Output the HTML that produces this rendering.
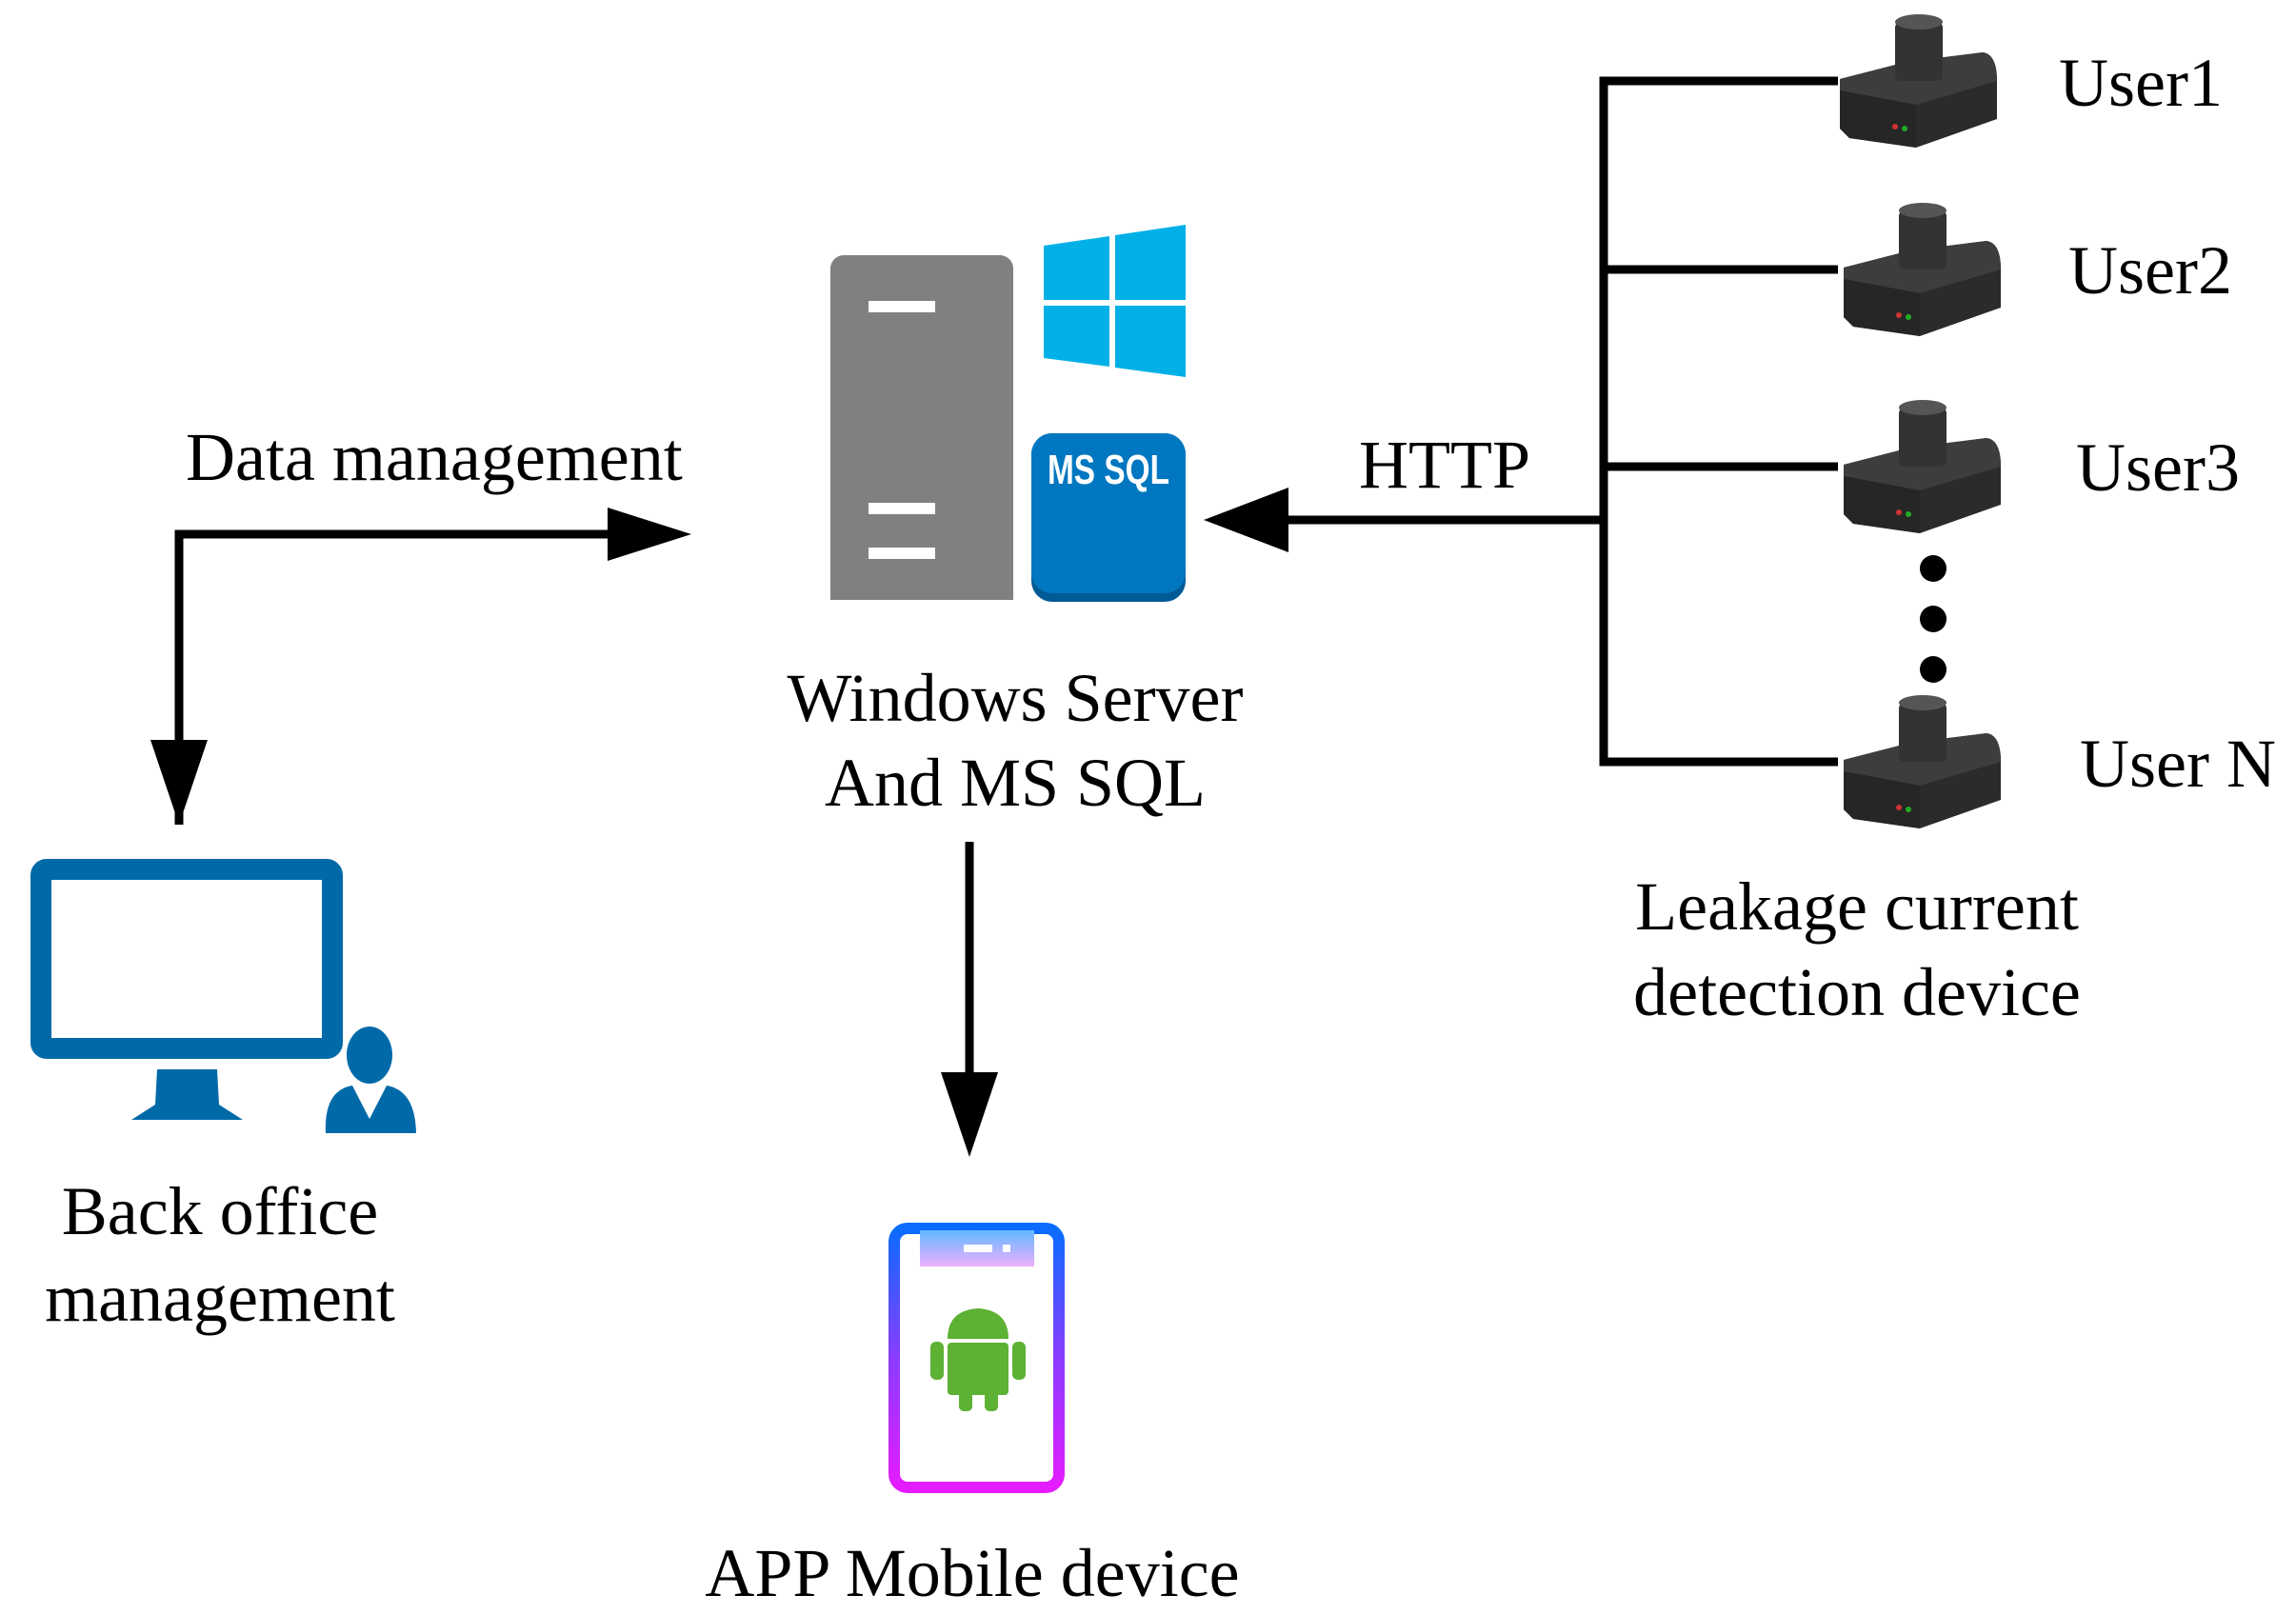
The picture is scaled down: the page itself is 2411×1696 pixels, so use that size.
<!DOCTYPE html>
<html><head><meta charset="utf-8"><style>
html,body{margin:0;padding:0;background:#fff;}
svg{display:block;}
text{font-family:"Liberation Serif",serif;fill:#000;}
</style></head><body>
<svg width="2411" height="1696" viewBox="0 0 2411 1696" xmlns="http://www.w3.org/2000/svg">
<defs>
<linearGradient id="pg" x1="0" y1="0" x2="0" y2="1">
<stop offset="0" stop-color="#0a6cff"/><stop offset="0.5" stop-color="#8a3cff"/><stop offset="1" stop-color="#e51cff"/></linearGradient>
<linearGradient id="ng" x1="0" y1="0" x2="0" y2="1">
<stop offset="0" stop-color="#60b8ff"/><stop offset="1" stop-color="#eeb0ff"/></linearGradient>
<g id="dev">
<path d="M0 38 L70 20 L150 10 Q165 12 165 40 L165 80 L80 110 L10 100 L0 90 Z" fill="#2b2b2b"/>
<path d="M0 38 L70 20 L150 10 Q165 12 165 40 L80 65 L0 50 Z" fill="#3d3d3d"/>
<path d="M0 50 L80 65 L80 110 L10 100 L0 90 Z" fill="#262626"/>
<rect x="58" y="-22" width="50" height="62" rx="6" fill="#333"/>
<ellipse cx="83" cy="-22" rx="25" ry="8" fill="#555"/>
<circle cx="58" cy="88" r="3" fill="#c33"/><circle cx="68" cy="90" r="3" fill="#2a2"/>
</g>
</defs>

<g stroke="#000" stroke-width="9" fill="none">
<path d="M1930 85 H1684 V800 H1930"/>
<path d="M1684 283 H1930"/>
<path d="M1684 490 H1930"/>
<path d="M1684 546 H1340"/>
<path d="M188 866 V561 H650"/>
<path d="M1018 884 V1130"/>
</g>
<polygon points="1264,546 1353,512 1353,580" fill="#000"/>
<polygon points="726,561 638,533 638,589" fill="#000"/>
<polygon points="188,866 158,777 218,777" fill="#000"/>
<polygon points="1018,1215 988,1126 1048,1126" fill="#000"/>

<use href="#dev" x="1932" y="45"/>
<use href="#dev" x="1936" y="243"/>
<use href="#dev" x="1936" y="450"/>
<use href="#dev" x="1936" y="760"/>
<circle cx="2030" cy="597" r="14" fill="#000"/>
<circle cx="2030" cy="650" r="14" fill="#000"/>
<circle cx="2030" cy="703" r="14" fill="#000"/>

<text x="2162" y="111" font-size="72">User1</text>
<text x="2172" y="308" font-size="72">User2</text>
<text x="2180" y="515" font-size="72">User3</text>
<text x="2184" y="826" font-size="72">User N</text>
<text x="1950" y="976" font-size="72" text-anchor="middle">Leakage current</text>
<text x="1950" y="1066" font-size="72" text-anchor="middle">detection device</text>

<rect x="872" y="268" width="192" height="362" rx="14" fill="#808080"/>
<rect x="872" y="600" width="192" height="30" fill="#808080"/>
<rect x="912" y="316" width="70" height="12" fill="#fff"/>
<rect x="912" y="528" width="70" height="12" fill="#fff"/>
<rect x="912" y="575" width="70" height="12" fill="#fff"/>
<polygon points="1096,258 1165,248 1165,315 1096,315" fill="#00b0e6"/>
<polygon points="1171,247 1245,236 1245,315 1171,315" fill="#00b0e6"/>
<polygon points="1096,321 1165,321 1165,385 1096,376" fill="#00b0e6"/>
<polygon points="1171,321 1245,321 1245,396 1171,386" fill="#00b0e6"/>
<rect x="1083" y="455" width="162" height="177" rx="22" fill="#005a96"/>
<rect x="1083" y="455" width="162" height="168" rx="22" fill="#0077c0"/>
<text x="1164" y="508" font-size="44" style="font-family:'Liberation Sans',sans-serif;font-weight:bold;fill:#fff" text-anchor="middle" textLength="128" lengthAdjust="spacingAndGlyphs">MS SQL</text>
<text x="1066" y="757" font-size="72" text-anchor="middle">Windows Server</text>
<text x="1066" y="846" font-size="72" text-anchor="middle">And MS SQL</text>
<text x="1427" y="512" font-size="72">HTTP</text>
<text x="195" y="504" font-size="72">Data management</text>

<rect x="43" y="913" width="306" height="188" rx="6" fill="none" stroke="#006aa8" stroke-width="22"/>
<path d="M165 1123 H228 L230 1160 L255 1176 H138 L163 1160 Z" fill="#006aa8"/>
<ellipse cx="388" cy="1108" rx="24" ry="30" fill="#006aa8"/>
<path d="M342 1190 Q340 1145 370 1140 L388 1175 L406 1140 Q436 1145 437 1190 Z" fill="#006aa8"/>
<text x="231" y="1296" font-size="72" text-anchor="middle">Back office</text>
<text x="231" y="1387" font-size="72" text-anchor="middle">management</text>

<rect x="939" y="1290" width="173" height="272" rx="14" fill="none" stroke="url(#pg)" stroke-width="12"/>
<rect x="966" y="1292" width="120" height="38" fill="url(#ng)"/>
<rect x="1012" y="1307" width="30" height="8" fill="#fff"/>
<rect x="1053" y="1307" width="8" height="8" fill="#fff"/>
<path d="M995 1406 Q995 1376 1027 1374 Q1059 1376 1059 1406 Z" fill="#5db134"/>
<rect x="995" y="1410" width="64" height="55" rx="4" fill="#5db134"/>
<rect x="977" y="1409" width="14" height="40" rx="6" fill="#5db134"/>
<rect x="1063" y="1409" width="14" height="40" rx="6" fill="#5db134"/>
<rect x="1007" y="1458" width="14" height="24" rx="5" fill="#5db134"/>
<rect x="1034" y="1458" width="14" height="24" rx="5" fill="#5db134"/>
<text x="1021" y="1676" font-size="72" text-anchor="middle">APP Mobile device</text>
</svg>
</body></html>
